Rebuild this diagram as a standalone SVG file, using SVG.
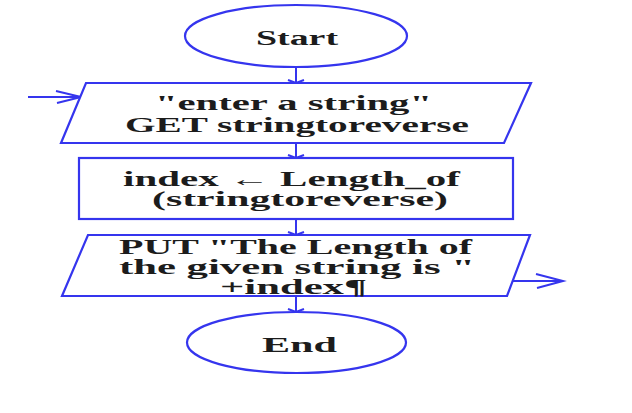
<svg xmlns="http://www.w3.org/2000/svg" width="632" height="413" viewBox="0 0 632 413">
<defs>
<style>
.shape{fill:#ffffff;stroke:#3535ee;stroke-width:2.2}
.conn{fill:none;stroke:#3535ee;stroke-width:2}
.t{font-family:"Liberation Serif","Times New Roman",serif;font-weight:bold;font-size:20px;fill:#1c1c1c}
</style>
</defs>
<rect width="632" height="413" fill="#ffffff"/>
<g id="connectors">
<path class="conn" d="M296 67 V83 M288 80 L296 83 L304 80"/>
<path class="conn" d="M296 143 V158 M288 155 L296 158 L304 155"/>
<path class="conn" d="M296 219 V235 M288 232 L296 235 L304 232"/>
<path class="conn" d="M296 296 V312 M288 309 L296 312 L304 309"/>
<path class="conn" d="M28 97 H81 M56 91 L81 97 L57 103"/>
<path class="conn" d="M512 281 H563 M536 274 L563 281 L537 288"/>
</g>
<g id="start">
<ellipse class="shape" cx="296" cy="36" rx="111" ry="31"/>
<text class="t" x="256" y="45" textLength="82" lengthAdjust="spacingAndGlyphs">Start</text>
</g>
<g id="input">
<polygon class="shape" points="86,83 531,83 504,143 61,143"/>
<text class="t" x="155" y="110" textLength="277" lengthAdjust="spacingAndGlyphs">"enter a string"</text>
<text class="t" x="125" y="132" textLength="344" lengthAdjust="spacingAndGlyphs">GET stringtoreverse</text>
</g>
<g id="process">
<rect class="shape" x="79" y="158" width="434" height="61"/>
<text class="t" x="123" y="186" textLength="337" lengthAdjust="spacingAndGlyphs">index ← Length_of</text>
<text class="t" x="152" y="206" textLength="296" lengthAdjust="spacingAndGlyphs">(stringtoreverse)</text>
</g>
<g id="output">
<polygon class="shape" points="88,235 530,235 507,296 62,296"/>
<text class="t" x="119" y="254" textLength="353" lengthAdjust="spacingAndGlyphs">PUT "The Length of</text>
<text class="t" x="119" y="274" textLength="356" lengthAdjust="spacingAndGlyphs">the given string is "</text>
<text class="t" x="220" y="294" textLength="147" lengthAdjust="spacingAndGlyphs">+index¶</text>
</g>
<g id="end">
<ellipse class="shape" cx="296.5" cy="342.5" rx="109.5" ry="30.5"/>
<text class="t" x="262" y="352" textLength="75" lengthAdjust="spacingAndGlyphs">End</text>
</g>
</svg>
